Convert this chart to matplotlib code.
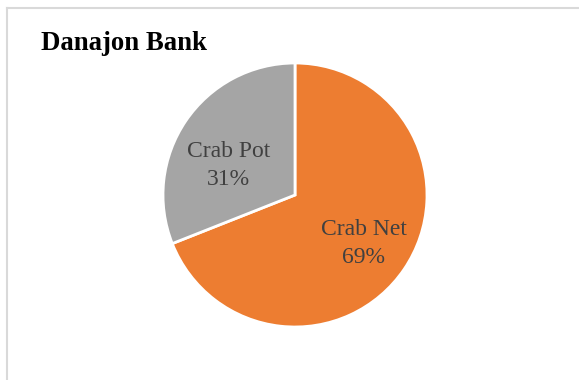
import matplotlib
matplotlib.use("Agg")
import matplotlib.pyplot as plt
from matplotlib.lines import Line2D

# Data
title = "Danajon Bank"
gear_types = ["Crab Net", "Crab Pot"]
shares = [69, 31]

colors = ["#ED7D31", "#A5A5A5"]
text_color = "#404040"
serif = ["Liberation Serif", "DejaVu Serif"]

fig = plt.figure(figsize=(5.79, 3.80), dpi=100)
fig.patch.set_facecolor("white")

# Frame lines along the top and left edges
border = "#D9D9D9"
fig.add_artist(Line2D([6.5 / 579, 1.0], [1 - 7.5 / 380] * 2,
                      transform=fig.transFigure, color=border, lw=1.5))
fig.add_artist(Line2D([6.5 / 579] * 2, [0.0, 1 - 7.5 / 380],
                      transform=fig.transFigure, color=border, lw=1.5))

fig.text(41 / 579, 1 - 50 / 380, title, family=serif, fontsize=19.3,
         fontweight="bold", color="black", ha="left", va="baseline")

cx, cy, r = 295, 195, 132
ax = fig.add_axes([(cx - r) / 579, (380 - cy - r) / 380, 2 * r / 579, 2 * r / 380])
ax.pie(shares, colors=colors, startangle=90, counterclock=False, radius=1,
       wedgeprops=dict(edgecolor="white", linewidth=2))
ax.set_xlim(-1, 1)
ax.set_ylim(-1, 1)
ax.set_aspect("equal")
ax.axis("off")

# Label anchor points inside each wedge
label_pos = [(0.52, -0.367), (-0.505, 0.222)]
for name, val, (lx, ly) in zip(gear_types, shares, label_pos):
    ax.text(lx, ly, f"{name}\n{val}%", family=serif, fontsize=17,
            color=text_color, ha="center", va="center", linespacing=1.4)

fig.savefig("out.png", dpi=100, facecolor="white")
